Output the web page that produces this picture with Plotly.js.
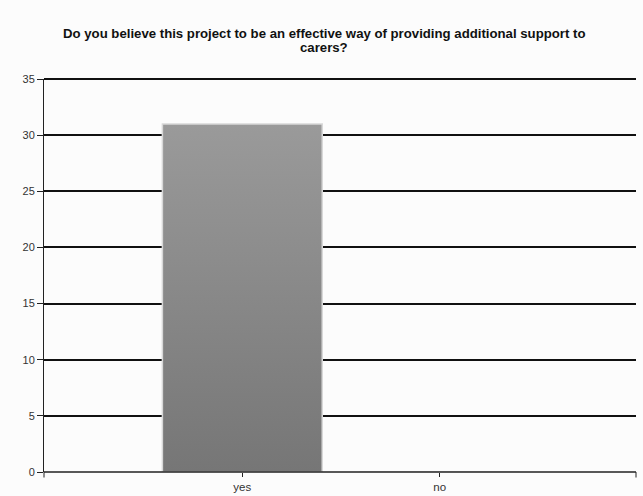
<!DOCTYPE html>
<html>
<head>
<meta charset="utf-8">
<script src="https://cdn.plot.ly/plotly-3.0.1.min.js"></script>
<style>
  html, body { margin: 0; padding: 0; background: #fcfcfc; }
  #chart { width: 643px; height: 496px; }
</style>
</head>
<body>
<div id="chart"></div>
<script>
// Survey answers and their counts
const answers = ['yes', 'no'];
const counts = [31, 0];
const yTicks = [0, 5, 10, 15, 20, 25, 30, 35];
const titleLines = [
  'Do you believe this project to be an effective way of providing additional support to',
  'carers?'
];

const trace = {
  type: 'bar',
  x: answers,
  y: counts,
  width: 0.81,
  marker: {
    color: '#888888',
    line: { color: '#d8d8d8', width: 1.5 }
  },
  hoverinfo: 'x+y'
};

const titleFont = { family: 'Liberation Sans, Arial, sans-serif', size: 13.2, color: '#111111' };

const layout = {
  width: 643,
  height: 496,
  paper_bgcolor: '#fcfcfc',
  plot_bgcolor: '#fcfcfc',
  margin: { l: 44, r: 6.5, t: 79, b: 24 },
  showlegend: false,
  // two-line heading set as separate rows for tighter line spacing
  annotations: titleLines.map(function (line, i) {
    return {
      text: '<b>' + line + '</b>',
      xref: 'paper', yref: 'paper',
      x: 0.473, xanchor: 'center',
      y: i === 0 ? 1.117 : 1.080, yanchor: 'middle',
      showarrow: false,
      font: titleFont
    };
  }),
  xaxis: {
    type: 'category',
    range: [-1.005, 1.995],
    showgrid: false,
    showline: false,
    ticks: 'outside',
    ticklen: 4,
    tickwidth: 1,
    tickcolor: '#222222',
    tickfont: { family: 'Liberation Sans, Arial, sans-serif', size: 11.5, color: '#333333' },
    zeroline: false
  },
  yaxis: {
    range: [0, 35],
    tickvals: yTicks,
    ticktext: yTicks.map(String),
    showgrid: true,
    gridcolor: '#111111',
    gridwidth: 2,
    showline: true,
    linecolor: '#222222',
    linewidth: 1,
    ticks: 'outside',
    ticklen: 6,
    tickcolor: '#222222',
    tickfont: { family: 'Liberation Sans, Arial, sans-serif', size: 11, color: '#333333' },
    zeroline: false
  },
  shapes: [
    // top gridline at the end of the value range
    { type: 'line', xref: 'paper', yref: 'paper', x0: 0, x1: 1, y0: 1, y1: 1,
      line: { color: '#111111', width: 2 } },
    // baseline along the category axis
    { type: 'line', xref: 'paper', yref: 'paper', x0: 0, x1: 1, y0: 0, y1: 0,
      line: { color: '#222222', width: 1.5 } },
    // end ticks of the category axis
    { type: 'line', xref: 'paper', yref: 'paper', x0: 0, x1: 0, y0: 0, y1: -0.014,
      line: { color: '#222222', width: 1 } },
    { type: 'line', xref: 'paper', yref: 'paper', x0: 1, x1: 1, y0: 0, y1: -0.014,
      line: { color: '#222222', width: 1 } }
  ]
};

Plotly.newPlot('chart', [trace], layout, { displayModeBar: false, staticPlot: true }).then(function (gd) {
  // vertical shading on the bars: lighter at the top, darker at the base
  const svg = gd.querySelector('svg.main-svg');
  const ns = 'http://www.w3.org/2000/svg';
  let defs = svg.querySelector('defs');
  if (!defs) { defs = document.createElementNS(ns, 'defs'); svg.insertBefore(defs, svg.firstChild); }
  const grad = document.createElementNS(ns, 'linearGradient');
  grad.setAttribute('id', 'barShade');
  grad.setAttribute('x1', '0'); grad.setAttribute('y1', '0');
  grad.setAttribute('x2', '0'); grad.setAttribute('y2', '1');
  [['0', '#9a9a9a'], ['1', '#767676']].forEach(function (s) {
    const stop = document.createElementNS(ns, 'stop');
    stop.setAttribute('offset', s[0]);
    stop.setAttribute('stop-color', s[1]);
    grad.appendChild(stop);
  });
  defs.appendChild(grad);
  gd.querySelectorAll('.bars .point path').forEach(function (p) {
    p.style.fill = 'url(#barShade)';
  });
});
</script>
</body>
</html>
